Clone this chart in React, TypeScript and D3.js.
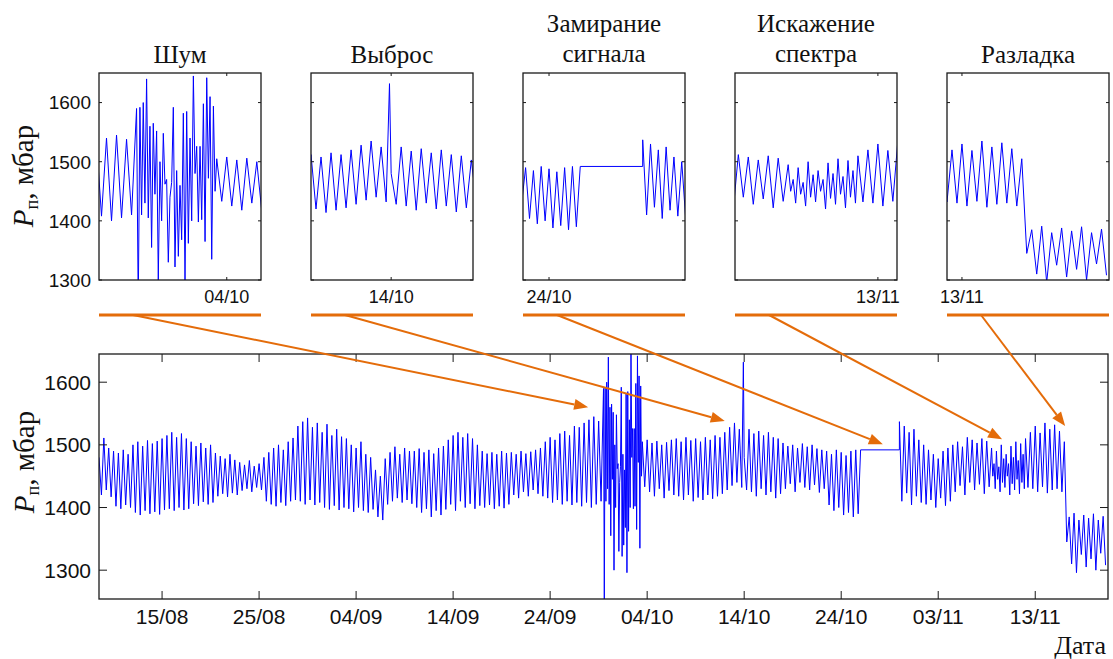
import React from 'react';
import * as d3 from 'd3';

// pressure record, one semidiurnal cycle = peak (t) + trough (t + 6h), 12h per cycle
const startTime = new Date(2012, 7, 8, 12);
const endTime = new Date(2012, 10, 20, 12);

const highs = [
	1480, 1511, 1495, 1490, 1487, 1492, 1485, 1500, 1505, 1498, 1507, 1502, 1506, 1510,
	1515, 1520, 1512, 1518, 1510, 1505, 1498, 1503, 1495, 1500, 1487, 1482, 1478, 1485, 1476,
	1472, 1468, 1475, 1466, 1470, 1480, 1488, 1495, 1500, 1492, 1505, 1511,
	1530, 1537, 1543, 1528, 1535, 1520, 1533, 1515, 1525, 1513, 1510, 1500, 1495, 1505, 1485, 1480,
	1460, 1450, 1478, 1488, 1497, 1485, 1495, 1490, 1490, 1494, 1488, 1492, 1486, 1495, 1498,
	1508, 1515, 1520, 1512, 1518, 1510, 1500, 1490, 1486, 1488, 1485, 1490, 1487, 1488, 1485, 1490, 1486, 1489, 1492, 1495,
	1505, 1512, 1508, 1518, 1522, 1515, 1530, 1528, 1535, 1540, 1545, 1538, 1530, 1525, 1520, 1515, 1510, 1508, 1505, 1505,
	1505, 1508, 1503, 1506, 1500, 1504, 1508, 1510, 1505, 1512, 1507, 1510, 1505, 1512, 1508, 1515, 1512, 1520, 1528, 1535, 1525,
	1480, 1525, 1518, 1522, 1515, 1520, 1512, 1510, 1503, 1498, 1500, 1495, 1502, 1497, 1500, 1494, 1492,
	1490, 1485, 1492, 1488, 1483, 1490, 1492, 1490, 1495, 1500, 1505, 1510, 1515, 1520, 1530, 1537, 1530, 1520, 1525, 1508,
	1500, 1492, 1485, 1478, 1490, 1495, 1500, 1505, 1497, 1512, 1508, 1503, 1510, 1506, 1500, 1495, 1490, 1500, 1495, 1505, 1500, 1510,
	1520, 1530, 1519, 1535, 1525, 1532, 1522, 1505, 1385, 1391, 1380, 1388, 1383, 1390, 1380, 1386
];

const lows = [
	1420, 1428, 1417, 1402, 1398, 1404, 1400, 1392, 1388, 1395, 1390, 1393, 1389, 1396,
	1398, 1395, 1400, 1396, 1398, 1406, 1403, 1409, 1405, 1408, 1418, 1422, 1417, 1423, 1420,
	1427, 1430, 1425, 1432, 1428, 1410, 1405, 1402, 1408, 1403, 1410, 1412,
	1410, 1405, 1412, 1404, 1408, 1400, 1397, 1403, 1396, 1400, 1398, 1393, 1400, 1395, 1392, 1397,
	1385, 1380, 1405, 1410, 1415, 1408, 1412, 1406, 1400, 1392, 1398, 1385, 1395, 1388, 1397,
	1405, 1395, 1410, 1400, 1406, 1398, 1403, 1400, 1404, 1398, 1402, 1399, 1405, 1420, 1415, 1425, 1418, 1428, 1422, 1418,
	1415, 1408, 1412, 1405, 1410, 1404, 1408, 1402, 1408, 1400, 1405, 1410, 1410, 1415, 1420, 1418, 1422, 1425, 1428, 1430,
	1433, 1425, 1418, 1430, 1415, 1427, 1420, 1418, 1412, 1420, 1410, 1416, 1412, 1420, 1414, 1418, 1422, 1428, 1435, 1440, 1432,
	1428, 1425, 1418, 1430, 1420, 1425, 1415, 1422, 1430, 1438, 1425, 1440, 1432, 1428, 1436, 1424, 1430,
	1404, 1395, 1400, 1388, 1392, 1385, 1390, 1395, 1400, 1405, 1410, 1415, 1420, 1425, 1415, 1410, 1423, 1404, 1418, 1408,
	1405, 1412, 1400, 1415, 1403, 1410, 1425, 1435, 1420, 1440, 1428, 1437, 1422, 1433, 1430, 1430, 1425, 1435, 1420, 1440, 1428, 1432,
	1430, 1425, 1433, 1423, 1428, 1430, 1425, 1345, 1310, 1296, 1325, 1305, 1318, 1300, 1327, 1308
];

// noise burst, 2h step
const noiseStart = new Date(2012, 8, 29, 12);
const noiseValues = [
	1590, 1254, 1592, 1410, 1600, 1430, 1640, 1405, 1560, 1355, 1565, 1445, 1552, 1300, 1500, 1400,
	1548, 1462, 1470, 1330, 1440, 1465, 1592, 1322, 1485, 1340, 1460, 1368, 1582, 1296, 1585, 1362,
	1540, 1400, 1645, 1480, 1526, 1398, 1526, 1402, 1598, 1365, 1642, 1472, 1610, 1335, 1594, 1450
];

// outlier
const spikeTime = new Date(2012, 9, 13, 22);
const spikeValue = 1632;

// frozen signal
const freezeStart = new Date(2012, 9, 26, 0);
const freezeEnd = new Date(2012, 9, 30, 0);
const freezeValue = 1492;

// spectrum distortion, 3h step
const spectrumStart = new Date(2012, 10, 8, 12);
const spectrumValues = [
	1495, 1450, 1470, 1430, 1490, 1445, 1465, 1425, 1500, 1440, 1478, 1432, 1485, 1450,
	1470, 1420, 1498, 1438, 1480, 1428, 1505, 1445, 1475, 1422, 1502, 1440, 1485, 1430
];

const mainTickLabels = ['15/08', '25/08', '04/09', '14/09', '24/09', '04/10', '14/10', '24/10', '03/11', '13/11'];
const yTicks = [1300, 1400, 1500, 1600];

const panelTitles = [['Шум'], ['Выброс'], ['Замирание', 'сигнала'], ['Искажение', 'спектра'], ['Разладка']];
const panelFrom = [
	new Date(2012, 8, 27, 15), new Date(2012, 9, 10, 0), new Date(2012, 9, 22, 8),
	new Date(2012, 10, 5, 20), new Date(2012, 10, 12, 6)
];
const panelTo = [
	new Date(2012, 9, 5, 17), new Date(2012, 9, 18, 2), new Date(2012, 10, 1, 17),
	new Date(2012, 10, 13, 23), new Date(2012, 10, 20, 9)
];
const panelTickLabels = ['04/10', '14/10', '24/10', '13/11', '13/11'];
const panelYDomain = [1300, 1650];

// where each arrow points on the main chart
const arrowDates = [
	new Date(2012, 8, 27, 22), new Date(2012, 9, 12, 0), new Date(2012, 9, 28, 7),
	new Date(2012, 10, 9, 14), new Date(2012, 10, 16, 2)
];
const arrowValues = [1560, 1538, 1501, 1509, 1530];

const HOUR = 3600 * 1000;
const addH = (d, h) => new Date(d.getTime() + h * HOUR);
const parseDay = d3.timeParse('%d/%m/%Y');

const buildSeries = () => {
	let pts = [];
	highs.forEach((h, i) => {
		pts.push({ t: addH(startTime, 12 * i), v: h });
		pts.push({ t: addH(startTime, 12 * i + 6), v: lows[i] });
	});
	const noiseEnd = addH(noiseStart, 2 * noiseValues.length);
	const specEnd = addH(spectrumStart, 3 * spectrumValues.length);
	pts = pts.filter(
		p =>
			!(p.t >= noiseStart && p.t < noiseEnd) &&
			!(p.t >= spectrumStart && p.t < specEnd) &&
			!(p.t >= freezeStart && p.t < freezeEnd)
	);
	noiseValues.forEach((v, i) => pts.push({ t: addH(noiseStart, 2 * i), v }));
	spectrumValues.forEach((v, i) => pts.push({ t: addH(spectrumStart, 3 * i), v }));
	pts.push({ t: freezeStart, v: freezeValue });
	pts.push({ t: addH(freezeEnd, -0.05), v: freezeValue });
	pts.push({ t: spikeTime, v: spikeValue });
	pts.sort((a, b) => a.t - b.t);
	return pts;
};

const series = buildSeries();

const sans = 'Liberation Sans, Arial, Helvetica, sans-serif';
const serif = 'Liberation Serif, Times New Roman, serif';
const blue = '#0000ff';
const orange = '#e46c0a';
const axisCol = '#1a1a1a';

const M = { left: 99, right: 1108, top: 354, bottom: 599 };
const P = { top: 73, bottom: 280, width: 162, lefts: [99, 311, 523, 735, 947] };
const bridgeY = 315;

const Panel = ({ k }) => {
	const left = P.lefts[k];
	const right = left + P.width;
	const x = d3.scaleTime().domain([panelFrom[k], panelTo[k]]).range([left, right]);
	const y = d3.scaleLinear().domain(panelYDomain).range([P.bottom, P.top]);
	const line = d3
		.line()
		.x(d => x(d.t))
		.y(d => y(d.v));
	const pad = 24 * HOUR;
	const data = series.filter(
		p => p.t.getTime() >= panelFrom[k].getTime() - pad && p.t.getTime() <= panelTo[k].getTime() + pad
	);
	const tickDate = parseDay(panelTickLabels[k] + '/2012');
	const tx = x(tickDate);
	const title = panelTitles[k];
	const cx = (left + right) / 2;
	return (
		<g>
			<clipPath id={`clip-p${k}`}>
				<rect x={left} y={P.top} width={P.width} height={P.bottom - P.top} />
			</clipPath>
			<path d={line(data)} fill="none" stroke={blue} strokeWidth={1} clipPath={`url(#clip-p${k})`} />
			<rect x={left} y={P.top} width={P.width} height={P.bottom - P.top} fill="none" stroke={axisCol} strokeWidth={1.3} />
			{yTicks.map(v => (
				<g key={v}>
					<line x1={left} x2={left + 3} y1={y(v)} y2={y(v)} stroke={axisCol} />
					<line x1={right} x2={right - 3} y1={y(v)} y2={y(v)} stroke={axisCol} />
					{k === 0 && (
						<text x={left - 8} y={y(v)} dy="0.36em" textAnchor="end" fontFamily={sans} fontSize={19} fill="#111">
							{v}
						</text>
					)}
				</g>
			))}
			<line x1={tx} x2={tx} y1={P.bottom} y2={P.bottom - 3} stroke={axisCol} />
			<line x1={tx} x2={tx} y1={P.top} y2={P.top + 3} stroke={axisCol} />
			<text x={tx} y={303} textAnchor="middle" fontFamily={sans} fontSize={18} fill="#111">
				{panelTickLabels[k]}
			</text>
			{title.length === 1 ? (
				<text x={cx} y={63} textAnchor="middle" fontFamily={serif} fontSize={25} fill="#111">
					{title[0]}
				</text>
			) : (
				title.map((s, i) => (
					<text key={i} x={cx} y={32 + i * 30} textAnchor="middle" fontFamily={serif} fontSize={25} fill="#111">
						{s}
					</text>
				))
			)}
			<line x1={left} x2={right} y1={bridgeY} y2={bridgeY} stroke={orange} strokeWidth={3} />
		</g>
	);
};

const YLabel = ({ x, y }) => (
	<text transform={`translate(${x},${y}) rotate(-90)`} textAnchor="middle" fontFamily={serif} fontSize={29} fill="#111">
		<tspan fontStyle="italic">P</tspan>
		<tspan fontSize={18} dy={5}>
			п
		</tspan>
		<tspan dy={-5}>, мбар</tspan>
	</text>
);

export default function App() {
	const x = d3.scaleTime().domain([startTime, endTime]).range([M.left, M.right]);
	const y = d3
		.scaleLinear()
		.domain(d3.extent(series, d => d.v))
		.range([M.bottom, M.top]);
	const line = d3
		.line()
		.x(d => x(d.t))
		.y(d => y(d.v));
	const tickDates = mainTickLabels.map(s => {
		const d = parseDay(s + '/2012');
		return { d, s };
	});

	const arrows = arrowDates.map((d, k) => {
		const x1 = P.lefts[k] + 0.21 * P.width;
		const y1 = bridgeY;
		const x2 = x(d);
		const y2 = y(arrowValues[k]);
		const ang = Math.atan2(y2 - y1, x2 - x1);
		const len = 14;
		const hw = 5.5;
		const bx = x2 - len * Math.cos(ang);
		const by = y2 - len * Math.sin(ang);
		const px = -Math.sin(ang) * hw;
		const py = Math.cos(ang) * hw;
		return { x1, y1, bx, by, x2, y2, head: `${x2},${y2} ${bx + px},${by + py} ${bx - px},${by - py}` };
	});

	return (
		<svg
			width={1113}
			height={659}
			style={{ position: 'absolute', left: 0, top: 0, background: '#fff' }}
		>
			<rect width={1113} height={659} fill="#fff" />
			{P.lefts.map((_, k) => (
				<Panel key={k} k={k} />
			))}
			<YLabel x={33} y={176} />

			<clipPath id="clip-main">
				<rect x={M.left} y={M.top} width={M.right - M.left} height={M.bottom - M.top} />
			</clipPath>
			<path d={line(series)} fill="none" stroke={blue} strokeWidth={1} clipPath="url(#clip-main)" />
			<rect
				x={M.left}
				y={M.top}
				width={M.right - M.left}
				height={M.bottom - M.top}
				fill="none"
				stroke={axisCol}
				strokeWidth={1.3}
			/>
			{yTicks.map(v => (
				<g key={v}>
					<line x1={M.left} x2={M.left + 8} y1={y(v)} y2={y(v)} stroke={axisCol} />
					<line x1={M.right} x2={M.right - 8} y1={y(v)} y2={y(v)} stroke={axisCol} />
					<text x={M.left - 8} y={y(v)} dy="0.36em" textAnchor="end" fontFamily={sans} fontSize={21} fill="#111">
						{v}
					</text>
				</g>
			))}
			{tickDates.map(({ d, s }) => (
				<g key={s}>
					<line x1={x(d)} x2={x(d)} y1={M.bottom} y2={M.bottom - 8} stroke={axisCol} />
					<line x1={x(d)} x2={x(d)} y1={M.top} y2={M.top + 8} stroke={axisCol} />
					<text x={x(d)} y={624} textAnchor="middle" fontFamily={sans} fontSize={21} fill="#111">
						{s}
					</text>
				</g>
			))}
			<YLabel x={34} y={462} />
			<text x={1106} y={654} textAnchor="end" fontFamily={serif} fontSize={26} fill="#111">
				Дата
			</text>

			{arrows.map((a, k) => (
				<g key={k}>
					<line x1={a.x1} y1={a.y1} x2={a.bx} y2={a.by} stroke={orange} strokeWidth={2} />
					<polygon points={a.head} fill={orange} />
				</g>
			))}
		</svg>
	);
}
